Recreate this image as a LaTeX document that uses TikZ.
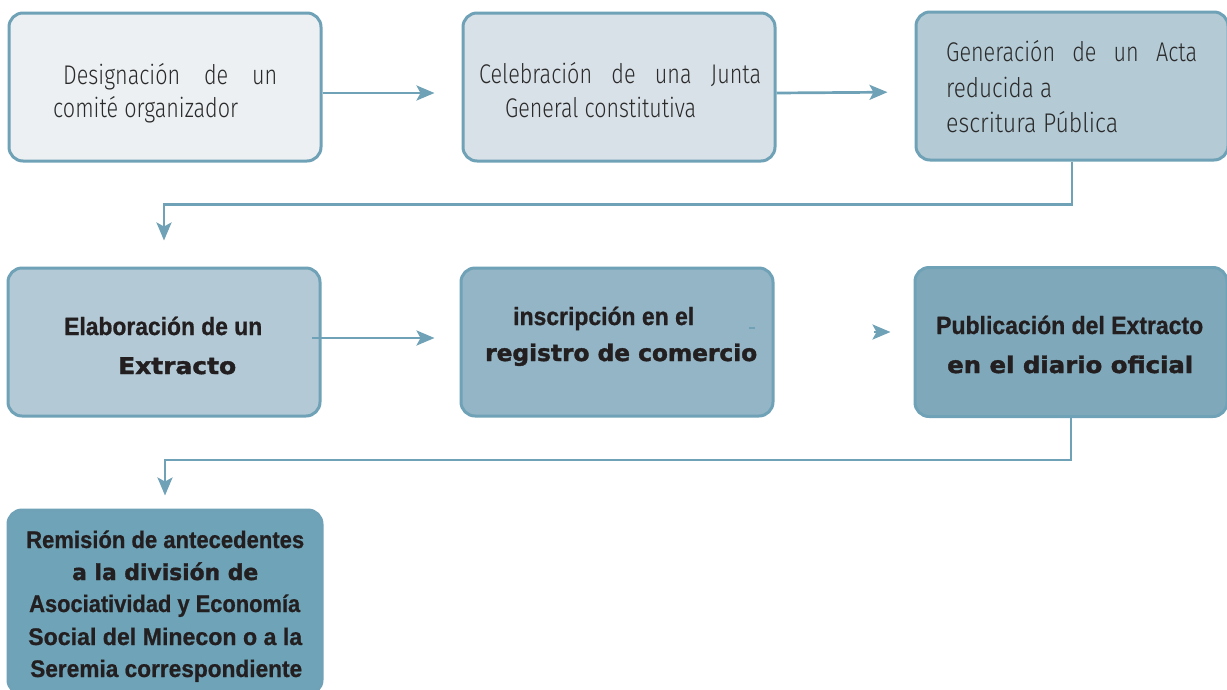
\documentclass[tikz,border=0pt]{standalone}
\usepackage{fontspec}
\usepackage{graphicx}
\usetikzlibrary{arrows.meta}
\newfontfamily\lightf{Fira Sans Light}[FakeStretch=0.8]
\newfontfamily\condf{Liberation Sans Bold}[FakeBold=0.8]
\newfontfamily\heavyf{DejaVu Sans Bold}[FakeBold=1.6]
\definecolor{edgec}{HTML}{6FA2B6}
\definecolor{fa}{HTML}{ECF0F3}
\definecolor{fb}{HTML}{D9E1E8}
\definecolor{fc}{HTML}{B4CAD5}
\definecolor{fd}{HTML}{B3CAD6}
\definecolor{fe}{HTML}{93B5C6}
\definecolor{ff}{HTML}{7FA9BA}
\definecolor{fg}{HTML}{6FA4B8}
\definecolor{txt}{HTML}{231F20}
\definecolor{ltxt}{HTML}{2A2A2A}
\newcommand{\fitw}[2]{\resizebox{#1}{\height}{#2}}
\tikzset{
  box/.style={draw=edgec, line width=3pt, rounded corners=14pt, minimum width=312pt, minimum height=148pt, inner sep=0pt},
  conn/.style={draw=edgec, line width=2.7pt, -{Stealth[length=18pt,width=15pt,inset=4pt]}},
  lt/.style={anchor=base west, inner sep=0pt, text=ltxt, font=\lightf\fontsize{27}{30}\selectfont},
  bd/.style={anchor=base west, inner sep=0pt, text=txt, font=\condf\fontsize{25}{28}\selectfont},
  hv/.style={anchor=base west, inner sep=0pt, text=txt, font=\heavyf\fontsize{23}{27}\selectfont},
}
\begin{document}
\begin{tikzpicture}[x=1pt,y=-1pt]
\useasboundingbox (0,0) rectangle (1227,689);
% boxes
\node[box, fill=fa] (b1) at (165,87) {};
\node[box, fill=fb] (b2) at (619,87) {};
\node[box, fill=fc] (b3) at (1072,86) {};
\node[box, fill=fd] (b4) at (164,342) {};
\node[box, fill=fe] (b5) at (617,342) {};
\node[box, fill=ff, minimum height=149pt] (b6) at (1071,342) {};
\node[box, fill=fg, minimum width=314pt, minimum height=184pt] (b7) at (165,602) {};
% connectors
\draw[conn, shorten >=27pt] ([yshift=-6pt]b1.east) -- ([yshift=-6pt]b2.west);
\draw[conn, shorten >=27pt] ([yshift=-6pt]b2.east) -- ([yshift=-6pt]b3.west);
\draw[conn, shorten >=26pt] (b3.south) -- ++(0,43) -| (b4.north);
\draw[conn, shorten >=25pt, shorten <=-10pt] ([yshift=4pt]b4.east) -- ([yshift=4pt]b5.west);
\draw[conn, shorten >=23pt, shorten <=99pt] ([yshift=10pt]b5.east) -- ([yshift=10pt]b6.west);
\draw[conn, shorten >=13pt] (b6.south) -- ++(0,42) -| (b7.north);
\draw[edgec, line width=1.5pt] (749,328) -- (755,328);
% texts row 1
\node[lt] (t1a) at (63,84) {\makebox[214pt][s]{Designación de un}};
\node[lt] (t1b) at (53,117) {\fitw{185pt}{comité organizador}};
\node[lt] (t2a) at (479,83) {\makebox[282pt][s]{Celebración de una Junta}};
\node[lt] (t2b) at (505,117) {\fitw{191pt}{General constitutiva}};
\node[lt] (t3a) at (946,61) {\makebox[251pt][s]{Generación de un Acta}};
\node[lt] (t3b) at (946,97) {\fitw{106pt}{reducida a}};
\node[lt] (t3c) at (946,132) {\fitw{172pt}{escritura Pública}};
% texts row 2
\node[bd] (t4a) at (64,335) {\fitw{198pt}{Elaboración de un}};
\node[hv] (t4b) at (118,374) {\fitw{118pt}{Extracto}};
\node[bd] (t5a) at (513,325) {\fitw{181pt}{inscripción en el}};
\node[hv] (t5b) at (485,361) {\fitw{272pt}{registro de comercio}};
\node[bd] (t6a) at (936,334) {\fitw{267pt}{Publicación del Extracto}};
\node[hv] (t6b) at (947,373) {\fitw{246pt}{en el diario oficial}};
% texts row 3
\node[bd, font=\condf\fontsize{24}{26}\selectfont] (t7a) at (26,548) {\fitw{278pt}{Remisión de antecedentes}};
\node[hv, font=\heavyf\fontsize{22}{26}\selectfont] (t7b) at (72,580) {\fitw{186pt}{a la división de}};
\node[bd, font=\condf\fontsize{24}{26}\selectfont] (t7c) at (29,612) {\fitw{271pt}{Asociatividad y Economía}};
\node[bd, font=\condf\fontsize{24}{26}\selectfont] (t7d) at (28,645) {\fitw{274pt}{Social del Minecon o a la}};
\node[bd, font=\condf\fontsize{24}{26}\selectfont] (t7e) at (30,677) {\fitw{272pt}{Seremia correspondiente}};
\end{tikzpicture}
\end{document}
